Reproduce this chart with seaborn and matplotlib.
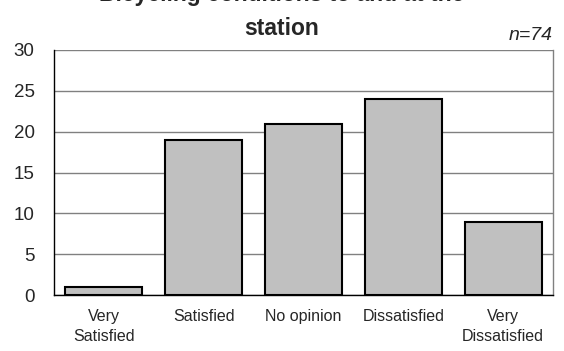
import matplotlib
matplotlib.use('Agg')
import matplotlib.pyplot as plt
import seaborn as sns
import pandas as pd

categories = ['Very\nSatisfied', 'Satisfied', 'No opinion', 'Dissatisfied', 'Very\nDissatisfied']
counts = [1, 19, 21, 24, 9]
y_ticks = [0, 5, 10, 15, 20, 25, 30]
title_line1 = 'Bicycling conditions to and at the'
title_line2 = 'station'
n_label = 'n=74'

sns.set_theme(style='white')
plt.rcParams['font.family'] = ['Liberation Sans', 'DejaVu Sans']

df = pd.DataFrame({'category': categories, 'count': counts})

fig = plt.figure(figsize=(5.64, 3.51), dpi=100)
ax = fig.add_axes([54 / 564, 1 - 295 / 351, 499 / 564, 245 / 351])

sns.barplot(data=df, x='category', y='count', color='#c0c0c0', edgecolor='black',
            linewidth=1.5, width=0.77, saturation=1, ax=ax, zorder=3)

ax.set_ylim(0, 30)
ax.set_xlim(-0.5, 4.5)
ax.set_yticks(y_ticks)
ax.set_yticklabels([str(v) for v in y_ticks], fontsize=13.5)
ax.yaxis.grid(True, color='#808080', linewidth=1, zorder=0)
ax.set_axisbelow(True)

# category labels in the middle, tick marks on the boundaries (Excel style)
ax.set_xticks(range(len(categories)))
ax.set_xticklabels(categories, fontsize=11.5, linespacing=1.45)
ax.tick_params(axis='x', length=0, pad=10)
ax.set_xticks([i - 0.5 for i in range(len(categories) + 1)], minor=True)
ax.tick_params(axis='x', which='minor', length=5, width=1, color='black', direction='out')
ax.tick_params(axis='y', length=6, width=1, color='black', direction='out', pad=8)
ax.set_xlabel('')
ax.set_ylabel('')

ax.spines['top'].set_visible(False)
ax.spines['left'].set_color('black')
ax.spines['bottom'].set_color('black')
ax.spines['right'].set_color('#808080')
for s in ['left', 'bottom', 'right']:
    ax.spines[s].set_linewidth(1)

# the first title line is cut by the top edge, as in the original
fig.text(0.5, 1 - 0.5 / 351, title_line1, ha='center', va='baseline',
         fontsize=16.5, fontweight='bold')
fig.text(0.5, 1 - 35 / 351, title_line2, ha='center', va='baseline',
         fontsize=16.5, fontweight='bold')
fig.text(553 / 564, 1 - 40 / 351, n_label, ha='right', va='baseline',
         fontsize=14, style='italic')

plt.savefig('out.png', dpi=100)
